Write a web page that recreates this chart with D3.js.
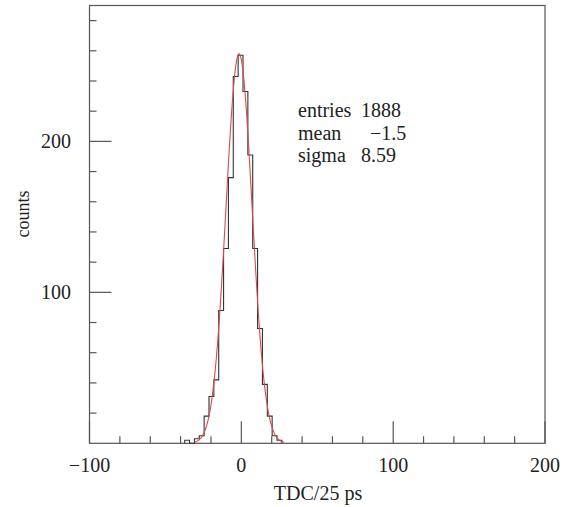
<!DOCTYPE HTML>
<html>

<head>
  <meta charset="utf-8">
  <title>TDC histogram</title>
  <script src="https://cdn.jsdelivr.net/npm/d3@7"></script>
  <style>
    body { margin: 0; background: #fff; }
    text { font-family: "Liberation Serif", "DejaVu Serif", serif; fill: #222; }
  </style>
</head>

<body>
  <script>
    // histogram bins (TDC/25 ps), lower edge of first bin + width, counts per bin
    const binStart = -37.3;
    const binWidth = 3.2;
    const counts = [2, 0, 3, 5, 18, 31, 42, 88, 129, 176, 243, 257, 233, 191, 129, 76, 39, 18, 5, 2];

    // gaussian fit: [amplitude, mean, sigma] and drawn range
    const fitParams = [258, -1.5, 8.59];
    const fitRange = [-31, 28];

    const xTicks = [-100, 0, 100, 200];
    const yTicks = [100, 200];
    const xMinor = [-80, -60, -40, -20, 20, 40, 60, 80, 120, 140, 160, 180];
    const yMinor = [20, 40, 60, 80, 120, 140, 160, 180, 220, 240, 260, 280];

    const stats = [
      ['entries', '1888'],
      ['mean', '\u22121.5'],
      ['sigma', '8.59'],
    ];

    const W = 570, H = 507;
    const plotL = 89.5, plotR = 545, plotT = 5.5, plotB = 443.3;

    const svg = d3.select('body').append('svg')
      .attr('width', W)
      .attr('height', H);

    const x = d3.scaleLinear().domain([-100, 200]).range([plotL, plotR]);
    const y = d3.scaleLinear().domain([0, 290]).range([plotB, plotT]);

    const axisColor = '#555';

    // frame
    svg.append('rect')
      .attr('x', plotL)
      .attr('y', plotT)
      .attr('width', plotR - plotL)
      .attr('height', plotB - plotT)
      .attr('fill', 'none')
      .attr('stroke', axisColor)
      .attr('stroke-width', 1.2);

    // ticks (inward)
    const tickG = svg.append('g').attr('stroke', axisColor).attr('stroke-width', 1.2);
    xTicks.forEach(v => {
      tickG.append('line')
        .attr('x1', x(v)).attr('x2', x(v))
        .attr('y1', plotB).attr('y2', plotB - 22);
    });
    xMinor.forEach(v => {
      tickG.append('line')
        .attr('x1', x(v)).attr('x2', x(v))
        .attr('y1', plotB).attr('y2', plotB - 7);
    });
    yTicks.forEach(v => {
      tickG.append('line')
        .attr('x1', plotL).attr('x2', plotL + 22)
        .attr('y1', y(v)).attr('y2', y(v));
    });
    yMinor.forEach(v => {
      tickG.append('line')
        .attr('x1', plotL).attr('x2', plotL + 7)
        .attr('y1', y(v)).attr('y2', y(v));
    });

    // tick labels
    svg.selectAll('.xlab')
      .data(xTicks)
      .enter().append('text')
      .attr('class', 'xlab')
      .attr('x', d => x(d))
      .attr('y', 472)
      .attr('text-anchor', 'middle')
      .attr('font-size', 20)
      .text(d => d < 0 ? '\u2212' + Math.abs(d) : d);

    svg.selectAll('.ylab')
      .data(yTicks)
      .enter().append('text')
      .attr('class', 'ylab')
      .attr('x', 71)
      .attr('y', d => y(d) + 7)
      .attr('text-anchor', 'end')
      .attr('font-size', 20)
      .text(d => d);

    // axis titles
    svg.append('text')
      .attr('x', 318)
      .attr('y', 500)
      .attr('text-anchor', 'middle')
      .attr('font-size', 20)
      .text('TDC/25 ps');

    svg.append('text')
      .attr('transform', 'translate(29,214) rotate(-90)')
      .attr('text-anchor', 'middle')
      .attr('font-size', 18)
      .text('counts');

    // histogram outline
    const pts = [[binStart, 0]];
    counts.forEach((c, i) => pts.push([binStart + i * binWidth, c]));
    pts.push([binStart + counts.length * binWidth, 0]);

    const stepLine = d3.line()
      .x(d => x(d[0]))
      .y(d => y(d[1]))
      .curve(d3.curveStepAfter);

    svg.append('path')
      .datum(pts)
      .attr('d', stepLine)
      .attr('fill', 'none')
      .attr('stroke', '#333')
      .attr('stroke-width', 1.1);

    // gaussian fit curve
    const [amp, mu, sig] = fitParams;
    const fitPts = d3.range(fitRange[0], fitRange[1] + 0.01, 0.25)
      .map(t => [t, amp * Math.exp(-((t - mu) ** 2) / (2 * sig * sig))]);

    svg.append('path')
      .datum(fitPts)
      .attr('d', d3.line().x(d => x(d[0])).y(d => y(d[1])).curve(d3.curveLinear))
      .attr('fill', 'none')
      .attr('stroke', '#d94a4a')
      .attr('stroke-width', 1.1);

    // stats box text
    const valX = [361, 370, 361];
    stats.forEach((s, i) => {
      const yy = 117 + i * 22.5;
      svg.append('text')
        .attr('x', 298)
        .attr('y', yy)
        .attr('font-size', 20)
        .text(s[0]);
      svg.append('text')
        .attr('x', valX[i])
        .attr('y', yy)
        .attr('font-size', 20)
        .text(s[1]);
    });
  </script>
</body>

</html>
